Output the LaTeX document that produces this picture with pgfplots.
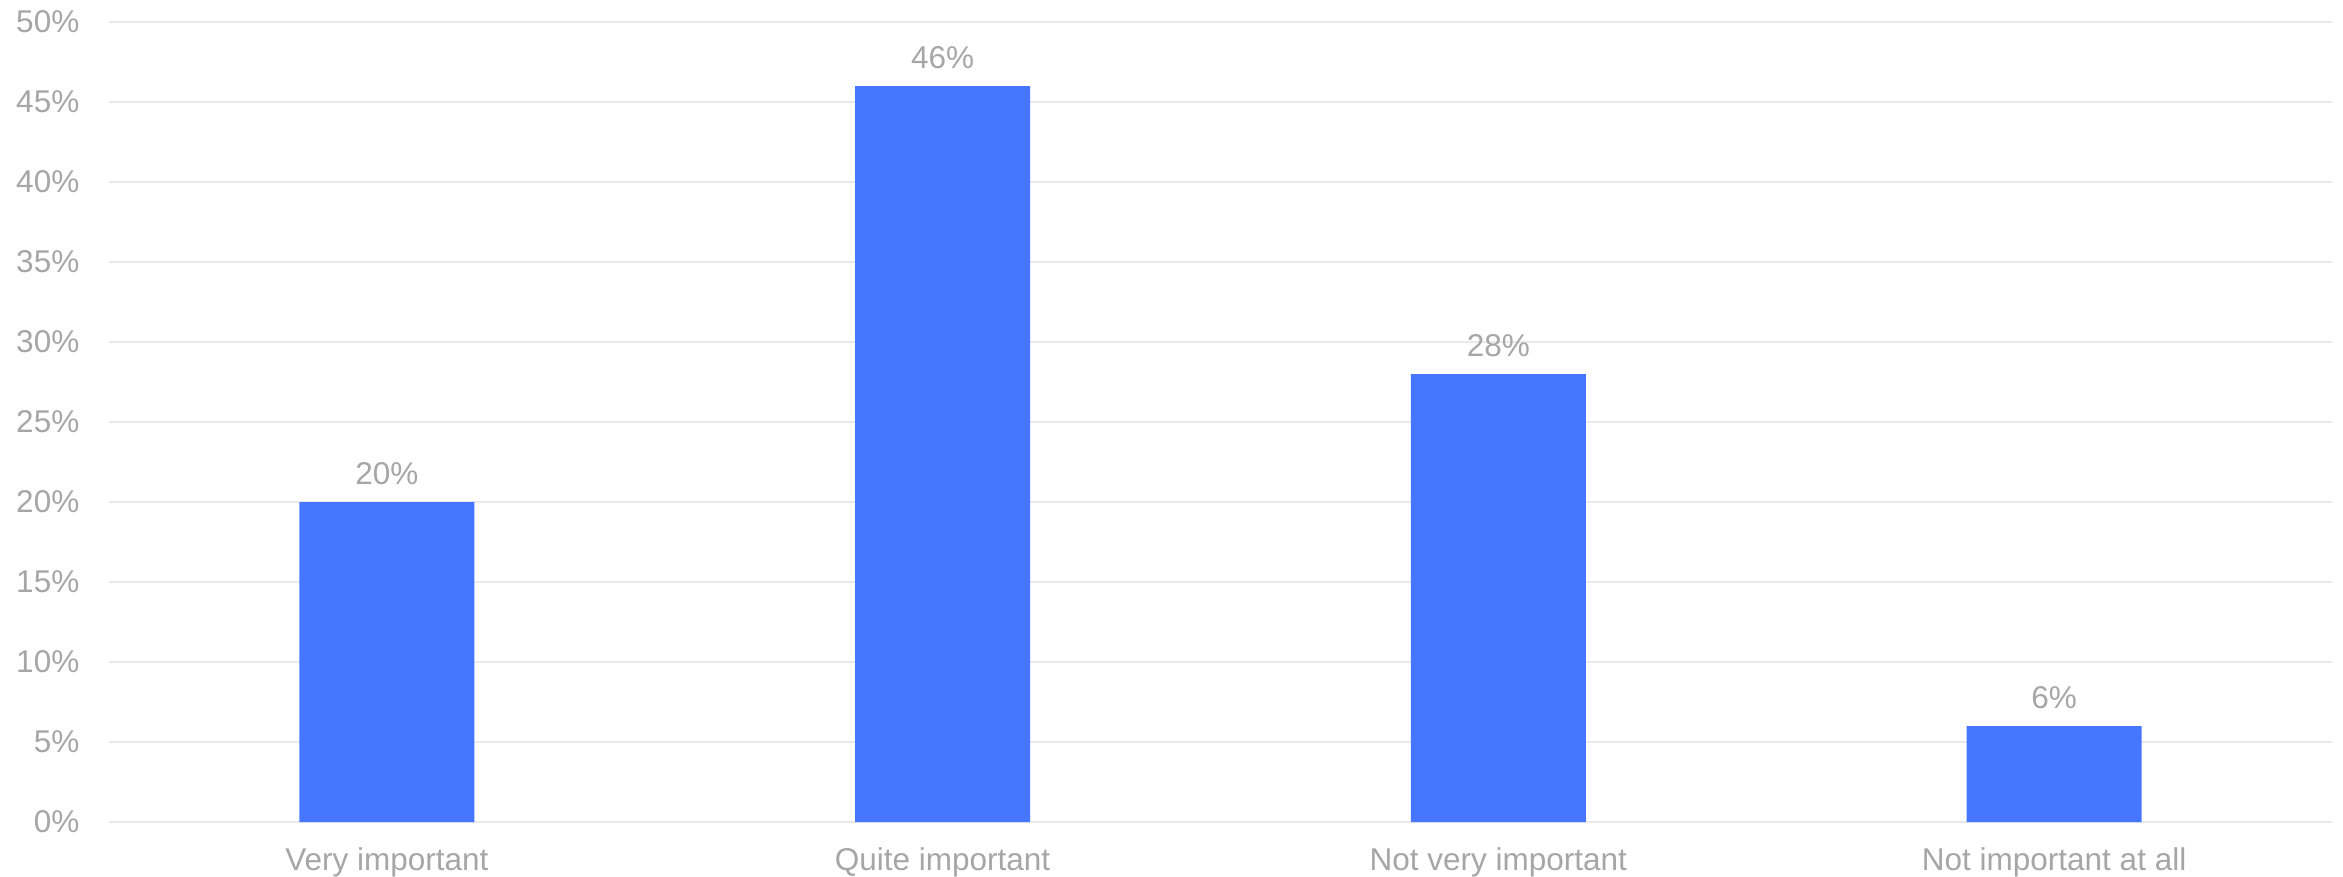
\documentclass[border=0pt]{standalone}
\usepackage{fontspec}
\setmainfont{Liberation Sans}
\usepackage{pgfplots}
\pgfplotsset{compat=1.18}
\definecolor{barc}{RGB}{70,118,255}
\definecolor{txtc}{RGB}{166,166,166}
\definecolor{gridc}{RGB}{233,233,233}
\begin{document}
\begin{tikzpicture}
\begin{axis}[
  at={(0,0)}, anchor=south west,
  scale only axis,
  width=741pt, height=266.67pt,
  xmin=-0.5, xmax=3.5,
  ymin=0, ymax=50,
  ybar, bar width=58.33pt,
  xtick={0,1,2,3},
  xticklabels={Very important,Quite important,Not very important,Not important at all},
  ytick={0,5,...,50},
  yticklabels={0\%,5\%,10\%,15\%,20\%,25\%,30\%,35\%,40\%,45\%,50\%},
  axis line style={draw=none},
  major tick length=0pt,
  ymajorgrids,
  grid style={draw=gridc, line width=0.75pt},
  tick label style={font=\fontsize{10.5pt}{12pt}\selectfont, text=txtc},
  yticklabel style={anchor=east, inner sep=0pt, xshift=-9.7pt},
  xticklabel style={anchor=base, inner sep=0pt, yshift=-16.3pt},
  /pgf/number format/assume math mode=true,
  nodes near coords={\pgfmathprintnumber{\pgfplotspointmeta}\%},
  every node near coord/.append style={anchor=base, inner sep=0pt, yshift=5.7pt, font=\fontsize{10.5pt}{12pt}\selectfont, text=txtc},
  clip=false,
]
\addplot[fill=barc, draw=none] coordinates {(0,20) (1,46) (2,28) (3,6)};
\end{axis}
\pgfresetboundingbox
\path[use as bounding box] (-36.33pt,-18.33pt) rectangle (744.67pt,274pt);
\end{tikzpicture}
\end{document}
